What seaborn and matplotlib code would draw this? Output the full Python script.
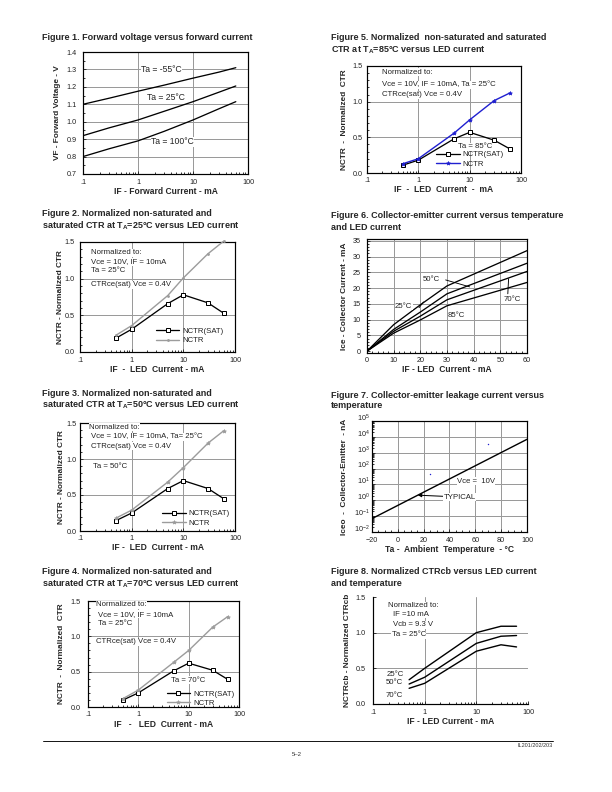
import matplotlib
matplotlib.use("Agg")
import matplotlib.pyplot as plt
import matplotlib.ticker as mticker
import matplotlib.transforms as mtransforms
import seaborn as sns


# Figure 1: forward voltage vs forward current.
fv_if = [0.1, 0.3, 1, 3, 10, 30, 60]
fv_m55 = [1.10, 1.135, 1.175, 1.21, 1.25, 1.285, 1.31]
fv_25 = [0.92, 0.965, 1.01, 1.06, 1.115, 1.17, 1.205]
fv_100 = [0.80, 0.845, 0.89, 0.945, 1.01, 1.075, 1.115]

# Figures 2-5: normalized CTR at different ambient temps.
led_if = [0.5, 1, 5, 10, 30, 60]
sat_25 = [0.19, 0.31, 0.66, 0.78, 0.67, 0.53]
nctr_25 = [0.23, 0.36, 0.77, 1.01, 1.34, 1.51]
sat_50 = [0.145, 0.25, 0.59, 0.70, 0.59, 0.45]
nctr_50 = [0.18, 0.29, 0.68, 0.88, 1.22, 1.39]
sat_70 = [0.10, 0.20, 0.51, 0.62, 0.52, 0.39]
nctr_70 = [0.12, 0.24, 0.63, 0.80, 1.13, 1.28]
sat_85 = [0.11, 0.18, 0.48, 0.57, 0.46, 0.34]
nctr_85 = [0.13, 0.20, 0.56, 0.745, 1.015, 1.12]

# Figure 6: collector current vs LED current.
ice_if = [0, 10, 20, 30, 60]
ice_25 = [0, 8.4, 14.7, 20.7, 31.9]
ice_50 = [0, 6.9, 12.4, 18.2, 27.9]
ice_70 = [0, 6.3, 11.1, 16.3, 25.3]
ice_85 = [0, 5.7, 9.9, 14.4, 21.8]

# Figure 7: leakage current vs temperature.
leak_ta = [-20, 100]
leak_na = [0.07, 7000]
stray_ta = [24.6, 69.5]
stray_na = [48, 3800]

# Figure 8: normalized CTRcb.
cb_if = [0.5, 1, 10, 30, 60]
cb_25 = [0.34, 0.50, 1.00, 1.09, 1.09]
cb_50 = [0.28, 0.375, 0.85, 0.95, 0.96]
cb_70 = [0.22, 0.29, 0.74, 0.83, 0.80]

log_ticks = [0.1, 1, 10, 100]
log_labels = [".1", "1", "10", "100"]

sns.set_style("ticks")
plt.rcParams["font.family"] = ["Liberation Sans", "DejaVu Sans"]
plt.rcParams["mathtext.fontset"] = "custom"
plt.rcParams["mathtext.rm"] = "Liberation Sans"
plt.rcParams["mathtext.bf"] = "Liberation Sans:bold"

W, H = 612, 792
fig = plt.figure(figsize=(W / 72, H / 72), dpi=72)

GRID = "#9a9a9a"
TXT = "#222222"
GRAY = "#9c9c9c"
BLUE = "#2020d0"
NOTE = 7.8


def px_axes(left, right, top, bottom):
    return fig.add_axes([left / W, 1 - bottom / H, (right - left) / W, (bottom - top) / H])


def style(ax, xlabel, ylabel, ypad=3, ytickpad=4, xpad=1):
    for s in ax.spines.values():
        s.set_linewidth(1.2)
        s.set_color("black")
    ax.tick_params(which="both", direction="in", labelsize=7.2, labelcolor=TXT,
                   width=0.9, top=False, right=False)
    ax.tick_params(axis="x", which="both", pad=4.5)
    ax.tick_params(axis="y", which="both", pad=ytickpad)
    ax.tick_params(which="major", length=3)
    ax.tick_params(which="minor", length=2)
    ax.set_xlabel(xlabel, fontsize=8.5, fontweight="bold", labelpad=xpad)
    ax.set_ylabel(ylabel, fontsize=8.3, fontweight="bold", labelpad=ypad)
    ax.grid(False)


def log_x(ax):
    ax.set_xscale("log")
    ax.set_xlim(0.1, 100)
    ax.set_xticks(log_ticks)
    ax.set_xticklabels(log_labels)
    ax.xaxis.set_minor_locator(mticker.LogLocator(base=10, subs=range(2, 10)))
    ax.xaxis.set_minor_formatter(mticker.NullFormatter())


def grid_lines(ax, xs, ys):
    for x in xs:
        ax.axvline(x, color=GRID, lw=1, zorder=0)
    for y in ys:
        ax.axhline(y, color=GRID, lw=1, zorder=0)


def note(ax, x, y, s, size=NOTE, **kw):
    ax.text(x, y, s, fontsize=size, color=TXT, va="center", zorder=3,
            bbox=dict(facecolor="white", edgecolor="none", pad=0.5), **kw)


def title(x, y, line1, line2=None, y2=None):
    fig.text(x / W, 1 - y / H, line1, fontsize=9, fontweight="bold", va="center", ha="left")
    if line2:
        fig.text(x / W, 1 - y2 / H, line2, fontsize=9, fontweight="bold", va="center", ha="left")


def ctr_plot(ax, sat, nctr, ncolor, nmarker, texts, legend_at):
    log_x(ax)
    ax.set_ylim(0, 1.5)
    ax.set_yticks([0, 0.5, 1.0, 1.5])
    ax.set_yticklabels(["0.0", "0.5", "1.0", "1.5"])
    ax.yaxis.set_minor_locator(mticker.MultipleLocator(0.1))
    grid_lines(ax, [1, 10], [0.5, 1.0])
    for x, y, s in texts:
        note(ax, x, y, s)
    sns.lineplot(x=led_if, y=sat, ax=ax, color="black", lw=1.3, marker="s",
                 markersize=4, markerfacecolor="white", markeredgecolor="black",
                 markeredgewidth=1, label="NCTR(SAT)", zorder=4, clip_on=False)
    sns.lineplot(x=led_if, y=nctr, ax=ax, color=ncolor, lw=1.4, marker=nmarker,
                 markersize=4, markerfacecolor=ncolor, markeredgecolor=ncolor,
                 label="NCTR", zorder=4, clip_on=False)
    ax.legend(loc="lower left", bbox_to_anchor=legend_at, frameon=False,
              fontsize=7.8, handlelength=3.0, handletextpad=0.4, borderpad=0,
              borderaxespad=0, labelspacing=0.25, labelcolor=TXT)


# ---------- Figure 1 ----------
title(42, 38, "Figure 1. Forward voltage versus forward current")
ax1 = px_axes(83, 248, 52, 174)
style(ax1, "IF - Forward Current - mA", "VF - Forward Voltage - V", ypad=6, ytickpad=6)
log_x(ax1)
ax1.set_ylim(0.7, 1.4)
ax1.set_yticks([0.7, 0.8, 0.9, 1.0, 1.1, 1.2, 1.3, 1.4])
ax1.yaxis.set_major_formatter(mticker.FormatStrFormatter("%.1f"))
ax1.yaxis.set_minor_locator(mticker.MultipleLocator(0.05))
grid_lines(ax1, [1, 10], [0.8, 0.9, 1.0, 1.1, 1.2, 1.3])
for ys in (fv_m55, fv_25, fv_100):
    sns.lineplot(x=fv_if, y=ys, ax=ax1, color="black", lw=1.3, zorder=2)
note(ax1, 1.15, 1.30, "Ta = -55°C", size=8.6)
note(ax1, 1.47, 1.14, "Ta = 25°C", size=8.6)
note(ax1, 1.74, 0.885, "Ta = 100°C", size=8.6)

# ---------- Figure 2 ----------
title(42, 213, "Figure 2. Normalized non-saturated and",
      "saturated CTR at T$_\\mathbf{A}$=25°C versus LED current", 226)
ax2 = px_axes(80, 235, 242, 352)
style(ax2, "IF  -  LED  Current - mA", "NCTR - Normalized CTR", ypad=1, ytickpad=5)
ctr_plot(ax2, sat_25, nctr_25, GRAY, ".",
         [(0.16, 1.355, "Normalized to:"), (0.16, 1.23, "Vce = 10V, IF = 10mA"),
          (0.16, 1.105, "Ta = 25°C"), (0.16, 0.92, "CTRce(sat) Vce = 0.4V")],
         (0.49, 0.07))

# ---------- Figure 3 ----------
title(42, 393, "Figure 3. Normalized non-saturated and",
      "saturated CTR at T$_\\mathbf{A}$=50°C versus LED current", 405)
ax3 = px_axes(80, 235, 423, 531)
style(ax3, "IF -  LED  Current - mA", "NCTR - Normalized CTR", ypad=2, ytickpad=3, xpad=0.5)
ctr_plot(ax3, sat_50, nctr_50, GRAY, "*",
         [(0.15, 1.44, "Normalized to:"), (0.165, 1.31, "Vce = 10V, IF = 10mA, Ta= 25°C"),
          (0.165, 1.175, "CTRce(sat) Vce = 0.4V"), (0.18, 0.896, "Ta = 50°C")],
         (0.53, 0.04))

# ---------- Figure 4 ----------
title(42, 572, "Figure 4. Normalized non-saturated and",
      "saturated CTR at T$_\\mathbf{A}$=70°C versus LED current", 584)
ax4 = px_axes(88, 239, 601, 707)
style(ax4, "IF   -   LED  Current - mA", "NCTR  -  Normalized  CTR", ypad=6, ytickpad=7, xpad=1.5)
ctr_plot(ax4, sat_70, nctr_70, GRAY, "*",
         [(0.146, 1.45, "Normalized to:"), (0.16, 1.315, "Vce = 10V, IF = 10mA"),
          (0.16, 1.18, "Ta = 25°C"), (0.146, 0.92, "CTRce(sat) Vce = 0.4V"),
          (4.5, 0.38, "Ta = 70°C")],
         (0.52, 0.0))

# ---------- Figure 5 ----------
title(331, 38, "Figure 5. Normalized  non-saturated and saturated",
      "CTR at T$_\\mathbf{A}$=85°C versus LED current", 50)
ax5 = px_axes(367, 521, 66, 173)
style(ax5, "IF  -  LED  Current  -  mA", "NCTR  -  Normalized  CTR", ypad=5, ytickpad=4)
ctr_plot(ax5, sat_85, nctr_85, BLUE, "*",
         [(0.197, 1.41, "Normalized to:"), (0.197, 1.235, "Vce = 10V, IF = 10mA, Ta = 25°C"),
          (0.197, 1.095, "CTRce(sat) Vce = 0.4V"), (6.0, 0.37, "Ta = 85°C")],
         (0.45, 0.05))

# ---------- Figure 6 ----------
title(331, 216, "Figure 6. Collector-emitter current versus temperature",
      "and LED current", 228)
ax6 = px_axes(367, 527, 239, 353)
style(ax6, "IF - LED  Current - mA", "Ice - Collector Current - mA", ypad=5, ytickpad=6, xpad=0.5)
ax6.set_xlim(0, 60)
ax6.set_ylim(-0.6, 35.6)
ax6.set_xticks(range(0, 61, 10))
ax6.set_yticks(range(0, 36, 5))
ax6.xaxis.set_minor_locator(mticker.MultipleLocator(2))
ax6.yaxis.set_minor_locator(mticker.MultipleLocator(1))
grid_lines(ax6, range(10, 60, 10), range(5, 36, 5))
for ys in (ice_25, ice_50, ice_70, ice_85):
    sns.lineplot(x=ice_if, y=ys, ax=ax6, color="black", lw=1.3, zorder=2)
note(ax6, 21, 22.6, "50°C")
ax6.plot([29.5, 38.5], [22.6, 20.4], color="black", lw=0.9, zorder=3)
note(ax6, 10.5, 14.2, "25°C")
ax6.plot([19.5, 21.2], [13.8, 15.6], color="black", lw=0.9, zorder=3)
note(ax6, 51.3, 16.5, "70°C")
ax6.plot([52.8, 53.1], [18.2, 23.0], color="black", lw=0.9, zorder=3)
note(ax6, 30.4, 11.4, "85°C")

# ---------- Figure 7 ----------
title(331, 395, "Figure 7. Collector-emitter leakage current versus",
      "temperature", 406)
ax7 = px_axes(372, 527, 421, 532)
style(ax7, "Ta -  Ambient  Temperature  - °C", "Iceo  -  Collector-Emitter  - nA", ypad=6, ytickpad=2)
ax7.set_yscale("log")
ax7.set_xlim(-20, 100)
ax7.set_ylim(1e-2, 1e5)
ax7.set_xticks(range(-20, 101, 20))
ax7.xaxis.set_minor_locator(mticker.MultipleLocator(5))
ax7.set_yticks([10.0 ** k for k in range(-2, 6)])
ax7.set_yticklabels(["$10^{%d}$" % k for k in range(-2, 6)])
ax7.yaxis.set_minor_locator(mticker.LogLocator(base=10, subs=range(2, 10)))
ax7.yaxis.set_minor_formatter(mticker.NullFormatter())
shift_up = mtransforms.ScaledTranslation(0, 4 / 72, fig.dpi_scale_trans)
for lab in ax7.get_yticklabels():
    lab.set_transform(lab.get_transform() + shift_up)
grid_lines(ax7, range(0, 100, 20), [10.0 ** k for k in range(-1, 5)])
sns.lineplot(x=leak_ta, y=leak_na, ax=ax7, color="black", lw=1.4, zorder=2)
sns.scatterplot(x=stray_ta, y=stray_na, ax=ax7, color=BLUE, s=2, linewidth=0, zorder=3)
note(ax7, 45.8, 16, "Vce =  10V")
ax7.annotate("TYPICAL", xy=(15.5, 2.1), xytext=(35.5, 1.6), fontsize=NOTE, color=TXT,
             va="center", zorder=3,
             bbox=dict(facecolor="white", edgecolor="none", pad=0.5),
             arrowprops=dict(arrowstyle="-|>", color="black", lw=1, mutation_scale=7,
                             shrinkA=0, shrinkB=0))

# ---------- Figure 8 ----------
title(331, 572, "Figure 8. Normalized CTRcb versus LED current",
      "and temperature", 584)
ax8 = px_axes(373, 528, 597, 704)
style(ax8, "IF - LED Current - mA", "NCTRcb - Normalized CTRcb", ypad=5, ytickpad=7)
ax8.spines["top"].set_visible(False)
ax8.spines["right"].set_visible(False)
log_x(ax8)
ax8.set_ylim(0, 1.5)
ax8.set_yticks([0, 0.5, 1.0, 1.5])
ax8.set_yticklabels(["0.0", "0.5", "1.0", "1.5"])
grid_lines(ax8, [1, 10], [0.5, 1.0])
for ys in (cb_25, cb_50, cb_70):
    sns.lineplot(x=cb_if, y=ys, ax=ax8, color="black", lw=1.4, zorder=2)
note(ax8, 0.195, 1.38, "Normalized to:")
note(ax8, 0.24, 1.256, "IF =10 mA")
note(ax8, 0.24, 1.11, "Vcb = 9.3 V")
note(ax8, 0.23, 0.97, "Ta = 25°C")
note(ax8, 0.18, 0.42, "25°C")
note(ax8, 0.18, 0.295, "50°C")
note(ax8, 0.175, 0.117, "70°C")

# ---------- footer ----------
fig.add_artist(plt.Line2D([43 / W, 553 / W], [1 - 741 / H, 1 - 741 / H],
                          color="black", lw=0.9))
fig.text(553 / W, 1 - 745.5 / H, "IL201/202/203", fontsize=5.5, ha="right",
         va="center", color="#333333")
fig.text(297 / W, 1 - 755 / H, "5\u20132", fontsize=6, ha="center", va="center",
         color="#333333")

fig.savefig("out.png", dpi=72)
